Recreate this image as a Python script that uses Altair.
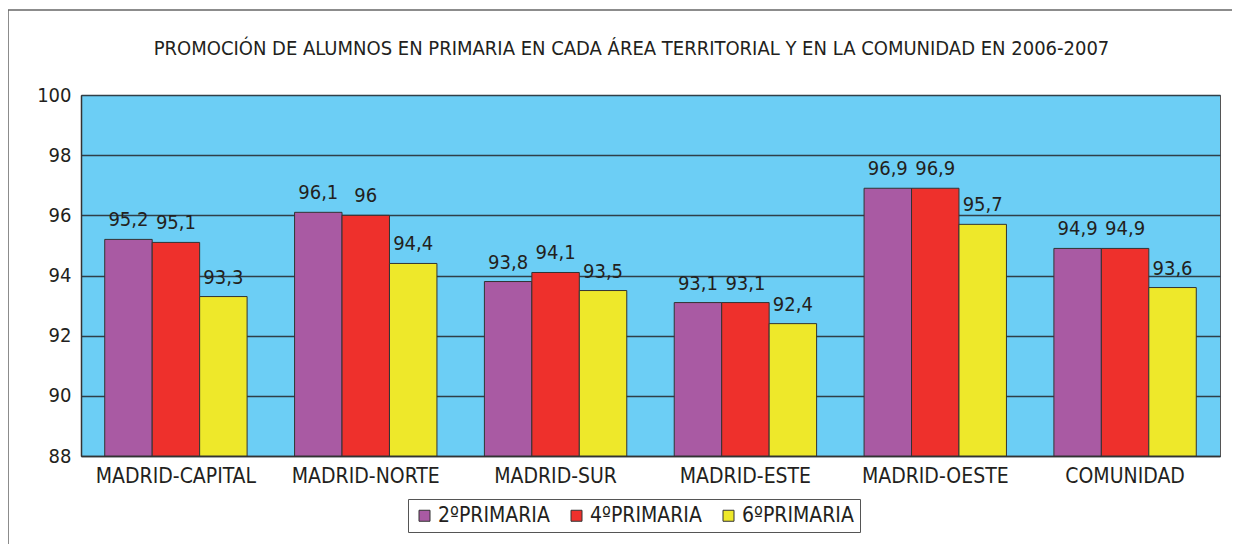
import altair as alt
import pandas as pd

areas = ["MADRID-CAPITAL", "MADRID-NORTE", "MADRID-SUR", "MADRID-ESTE", "MADRID-OESTE", "COMUNIDAD"]
series = ["2ºPRIMARIA", "4ºPRIMARIA", "6ºPRIMARIA"]
v2 = [95.2, 96.1, 93.8, 93.1, 96.9, 94.9]
v4 = [95.1, 96.0, 94.1, 93.1, 96.9, 94.9]
v6 = [93.3, 94.4, 93.5, 92.4, 95.7, 93.6]
colors = ["#A95AA3", "#EE302C", "#EEE82A"]
y_ticks = [88, 90, 92, 94, 96, 98, 100]

rows = []
for s, vals in zip(series, [v2, v4, v6]):
    for a, v in zip(areas, vals):
        rows.append({"area": a, "serie": s, "value": v})
df = pd.DataFrame(rows)

FONT = "Liberation Sans Narrow, Arial Narrow, DejaVu Sans Condensed, sans-serif"
TXT = "#231F20"

W, H = 1139, 361

x_enc = alt.X("area:N", sort=areas, title=None,
              scale=alt.Scale(paddingInner=0.25, paddingOuter=0.125),
              axis=alt.Axis(labelAngle=0, labelFontSize=21, labelFont=FONT, labelColor=TXT,
                            labelPadding=9, ticks=False, domainColor="#333", domainWidth=1.5,
                            grid=False))
xo_enc = alt.XOffset("serie:N", sort=series, scale=alt.Scale(paddingInner=0, paddingOuter=0))
y_enc = alt.Y("value:Q", title=None,
              scale=alt.Scale(domain=[88, 100], nice=False, zero=False),
              axis=alt.Axis(values=y_ticks, labelFontSize=20, labelFont=FONT, labelColor=TXT,
                            labelPadding=10, ticks=False, domainColor="#333", domainWidth=1.5,
                            grid=True, gridColor="#2f3f48", gridWidth=1.3))

base = alt.Chart(df)

bars = base.mark_bar(stroke="#333", strokeWidth=1).encode(
    x=x_enc, xOffset=xo_enc, y=y_enc, y2=alt.datum(88),
    color=alt.Color("serie:N", sort=series, title=None,
                    scale=alt.Scale(domain=series, range=colors),
                    legend=alt.Legend(orient="none", direction="horizontal",
                                      legendX=327, legendY=404,
                                      symbolType="square", symbolSize=121,
                                      symbolStrokeColor="#333", symbolStrokeWidth=1,
                                      labelFontSize=21, labelFont=FONT, labelColor=TXT,
                                      labelOffset=3, columnPadding=16,
                                      strokeColor="#555", padding=6,
                                      fillColor="white")),
)

labels = base.transform_calculate(
    lab="replace(toString(datum.value), '.', ',')"
).mark_text(baseline="alphabetic", dy=-13, fontSize=20, font=FONT, color=TXT).encode(
    x=alt.X("area:N", sort=areas), xOffset=alt.XOffset("serie:N", sort=series),
    y=alt.Y("value:Q"), text="lab:N",
)

frame_v = alt.Chart(pd.DataFrame({"k": [0]})).mark_rule(color="#666", strokeWidth=1.5).encode(
    x=alt.value(-73), y=alt.value(-85), y2=alt.value(470))
frame_h = alt.Chart(pd.DataFrame({"k": [0]})).mark_rule(color="#666", strokeWidth=1.5).encode(
    x=alt.value(-73), x2=alt.value(1170), y=alt.value(-85))

chart = alt.layer(bars, labels, frame_v, frame_h).properties(
    width=W, height=H,
    view=alt.ViewBackground(fill="#6CCEF5", stroke="#555", strokeWidth=1),
    title=alt.TitleParams(
        "PROMOCIÓN  DE ALUMNOS EN PRIMARIA EN CADA ÁREA TERRITORIAL Y EN LA  COMUNIDAD EN 2006-2007",
        font=FONT, fontSize=20, fontWeight="normal", color=TXT, frame="group",
        anchor="middle", dx=-19, offset=-66, baseline="alphabetic"),
    padding={"left": 73, "top": 87, "right": 12, "bottom": 88},
    autosize=alt.AutoSizeParams(type="none"),
).configure_view(fill="#6CCEF5", stroke="#555", strokeWidth=1).configure(background="white")

chart.save("out.html", embed_options={"renderer": "svg", "actions": False})
